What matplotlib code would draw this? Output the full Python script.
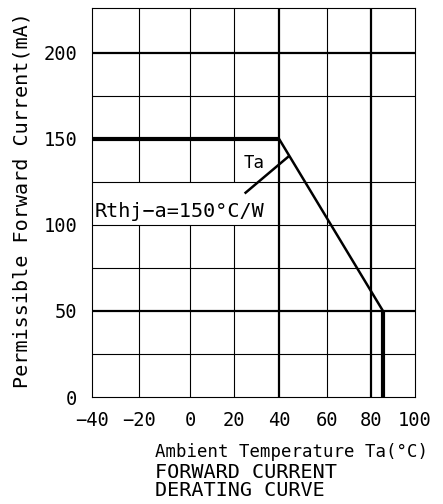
#! /usr/bin/env python3

# Imports
import matplotlib
matplotlib.use("Agg")
import matplotlib.pyplot as plt
from matplotlib.patches import Rectangle


# Data
curve_ta = [-40, 41.0, 86.1, 86.1]
curve_if = [150, 150, 50, 0]

grid_x = [-19.6, 2.4, 21.5, 41.0, 61.8, 81.0]
grid_x_bold = [41.0, 81.0]
grid_y = [25, 50, 75, 100, 125, 175, 200]
grid_y_bold = [50, 200]

tick_x = [-40, -19.6, 2.4, 21.5, 41.0, 61.8, 81.0, 100]
tick_x_labels = ["\u221240", "\u221220", "0", "20", "40", "60", "80", "100"]
tick_y = [0, 50, 100, 150, 200]

leader_x = [26.5, 45.0]
leader_y = [118.7, 139.6]


# Configuration
plt.rcParams["font.family"] = ["DejaVu Sans Mono"]
ink = "black"


# Code
fig = plt.figure(figsize=(4.43, 5.04), dpi=100)
ax = fig.add_axes([0.2084, 0.2123, 0.7284, 0.7718])
ax.set_xlim(-40, 100)
ax.set_ylim(0, 226)

for x in grid_x:
    lw = 1.6 if x in grid_x_bold else 0.8
    ax.axvline(x, color=ink, lw=lw, zorder=1)
for y in grid_y:
    lw = 1.6 if y in grid_y_bold else 0.8
    ax.axhline(y, color=ink, lw=lw, zorder=3)

# white label box between the 100 and 125 grid lines
ax.add_patch(Rectangle((-40, 100), 79.5, 25, facecolor="white",
                       edgecolor="none", zorder=2))

# derating curve: flat part, slope, cut-off
ax.plot(curve_ta[:2], curve_if[:2], color=ink, lw=3.0, zorder=4,
        solid_capstyle="butt")
ax.plot(curve_ta[1:3], curve_if[1:3], color=ink, lw=1.8, zorder=4)
ax.plot(curve_ta[2:], curve_if[2:], color=ink, lw=3.0, zorder=4,
        solid_capstyle="butt")

ax.plot(leader_x, leader_y, color=ink, lw=1.8, zorder=4)
ax.text(30.0, 136, "Ta", fontsize=12.5, ha="center", va="center", zorder=5)
ax.text(-38.8, 108, "Rthj\u2212a=150\u00b0C/W", fontsize=14.5,
        ha="left", va="center", zorder=5)

ax.set_xticks(tick_x)
ax.set_xticklabels(tick_x_labels)
ax.set_yticks(tick_y)
ax.tick_params(length=0, labelsize=13.5, colors=ink)
ax.tick_params(axis="x", pad=10)
ax.tick_params(axis="y", pad=11)
for s in ax.spines.values():
    s.set_linewidth(0.8)

fig.text(22 / 443, 1 - 200 / 504, "Permissible Forward Current(mA)",
         rotation=90, fontsize=14.5, ha="center", va="center")
fig.text(155 / 443, 1 - 452 / 504, "Ambient Temperature Ta(\u00b0C)",
         fontsize=12.5, ha="left", va="center")
fig.text(155 / 443, 1 - 473 / 504, "FORWARD CURRENT",
         fontsize=14.5, ha="left", va="center")
fig.text(155 / 443, 1 - 491 / 504, "DERATING CURVE",
         fontsize=14.5, ha="left", va="center")

plt.savefig("out.png", dpi=100)
